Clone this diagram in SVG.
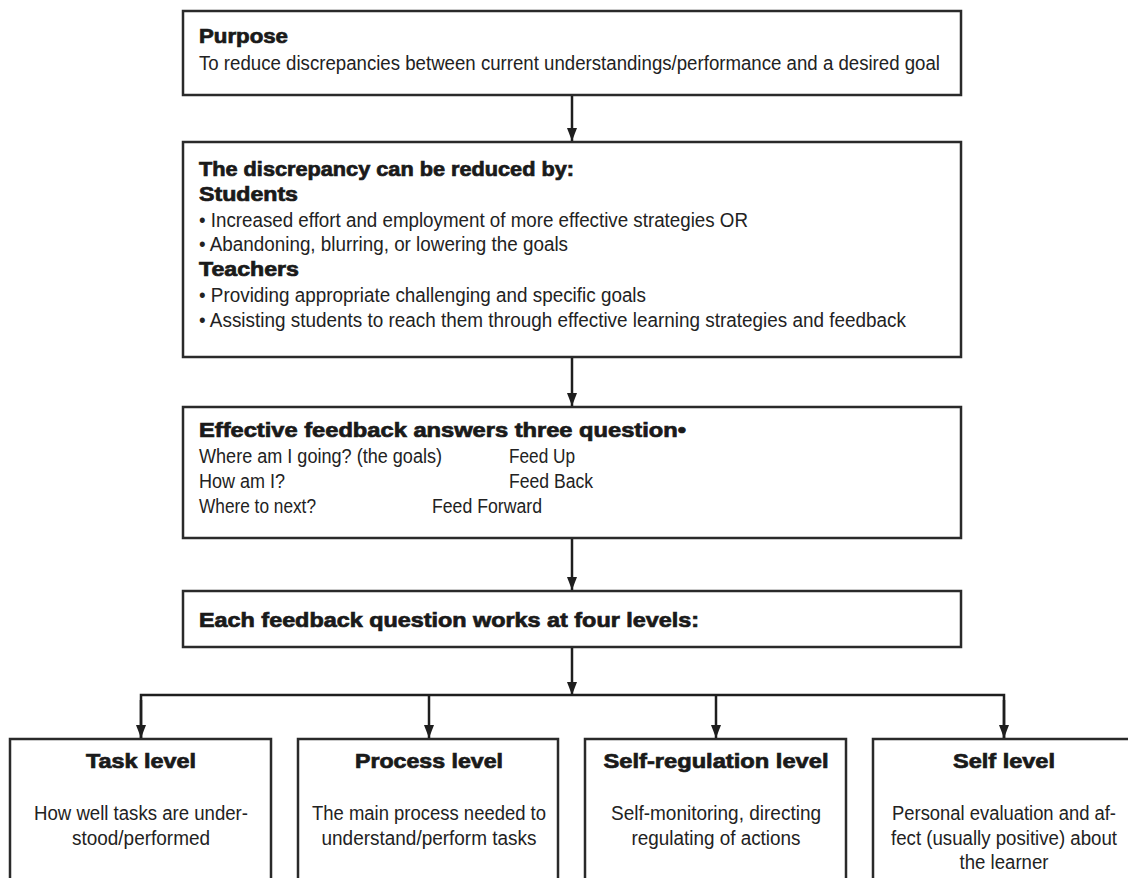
<svg xmlns="http://www.w3.org/2000/svg" width="1128" height="878" viewBox="0 0 1128 878">
<defs>
<marker id="arr" viewBox="0 0 13 10" refX="13" refY="5" markerWidth="13" markerHeight="10" markerUnits="userSpaceOnUse" orient="auto">
<path d="M0,0 L13,5 L0,10 z" fill="#1e1e1e"/>
</marker>
</defs>
<style>
.box{fill:#fff;stroke:#2a2a2a;stroke-width:2.5}
.h{font-family:"Liberation Sans",Arial,sans-serif;font-weight:bold;font-size:19.5px;fill:#1a1a1a;stroke:#1a1a1a;stroke-width:0.7}
.t{font-family:"Liberation Sans Narrow","Liberation Sans",Arial,sans-serif;font-size:19.5px;fill:#222}
.c{text-anchor:middle}
.con{fill:none;stroke:#1e1e1e;stroke-width:2.5}
</style>
<rect width="1128" height="878" fill="#fff"/>
<g id="purpose">
<rect class="box" x="183" y="11" width="778" height="84"/>
<text class="h" x="199" y="43" textLength="89" lengthAdjust="spacingAndGlyphs">Purpose</text>
<text class="t" x="199" y="70" textLength="741" lengthAdjust="spacingAndGlyphs">To reduce discrepancies between current understandings/performance and a desired goal</text>
</g>
<g id="discrepancy">
<rect class="box" x="183" y="142" width="778" height="215"/>
<text class="h" x="199" y="176" textLength="375" lengthAdjust="spacingAndGlyphs">The discrepancy can be reduced by:</text>
<text class="h" x="199" y="201" textLength="99" lengthAdjust="spacingAndGlyphs">Students</text>
<text class="t" x="199" y="227" textLength="549" lengthAdjust="spacingAndGlyphs">• Increased effort and employment of more effective strategies OR</text>
<text class="t" x="199" y="251" textLength="369" lengthAdjust="spacingAndGlyphs">• Abandoning, blurring, or lowering the goals</text>
<text class="h" x="199" y="276" textLength="100" lengthAdjust="spacingAndGlyphs">Teachers</text>
<text class="t" x="199" y="302" textLength="447" lengthAdjust="spacingAndGlyphs">• Providing appropriate challenging and specific goals</text>
<text class="t" x="199" y="327" textLength="707" lengthAdjust="spacingAndGlyphs">• Assisting students to reach them through effective learning strategies and feedback</text>
</g>
<g id="questions">
<rect class="box" x="183" y="407" width="778" height="131"/>
<text class="h" x="199" y="437" textLength="487" lengthAdjust="spacingAndGlyphs">Effective feedback answers three question•</text>
<text class="t" x="199" y="463" textLength="243" lengthAdjust="spacingAndGlyphs">Where am I going? (the goals)</text>
<text class="t" x="509" y="463" textLength="66" lengthAdjust="spacingAndGlyphs">Feed Up</text>
<text class="t" x="199" y="488" textLength="86" lengthAdjust="spacingAndGlyphs">How am I?</text>
<text class="t" x="509" y="488" textLength="84" lengthAdjust="spacingAndGlyphs">Feed Back</text>
<text class="t" x="199" y="513" textLength="117" lengthAdjust="spacingAndGlyphs">Where to next?</text>
<text class="t" x="432" y="513" textLength="110" lengthAdjust="spacingAndGlyphs">Feed Forward</text>
</g>
<g id="levels">
<rect class="box" x="183" y="591" width="778" height="56"/>
<text class="h" x="199" y="627" textLength="500" lengthAdjust="spacingAndGlyphs">Each feedback question works at four levels:</text>
</g>
<g id="task">
<rect class="box" x="10" y="739" width="261" height="160"/>
<text class="h c" x="141" y="768" textLength="110" lengthAdjust="spacingAndGlyphs">Task level</text>
<text class="t c" x="141" y="820" textLength="214" lengthAdjust="spacingAndGlyphs">How well tasks are under-</text>
<text class="t c" x="141" y="845" textLength="138" lengthAdjust="spacingAndGlyphs">stood/performed</text>
</g>
<g id="process">
<rect class="box" x="298" y="739" width="260" height="160"/>
<text class="h c" x="429" y="768" textLength="148" lengthAdjust="spacingAndGlyphs">Process level</text>
<text class="t c" x="429" y="820" textLength="234" lengthAdjust="spacingAndGlyphs">The main process needed to</text>
<text class="t c" x="429" y="845" textLength="215" lengthAdjust="spacingAndGlyphs">understand/perform tasks</text>
</g>
<g id="selfregulation">
<rect class="box" x="585" y="739" width="261" height="160"/>
<text class="h c" x="716" y="768" textLength="225" lengthAdjust="spacingAndGlyphs">Self-regulation level</text>
<text class="t c" x="716" y="820" textLength="210" lengthAdjust="spacingAndGlyphs">Self-monitoring, directing</text>
<text class="t c" x="716" y="845" textLength="169" lengthAdjust="spacingAndGlyphs">regulating of actions</text>
</g>
<g id="self">
<rect class="box" x="873" y="739" width="270" height="160"/>
<text class="h c" x="1004" y="768" textLength="102" lengthAdjust="spacingAndGlyphs">Self level</text>
<text class="t c" x="1004" y="820" textLength="224" lengthAdjust="spacingAndGlyphs">Personal evaluation and af-</text>
<text class="t c" x="1004" y="845" textLength="226" lengthAdjust="spacingAndGlyphs">fect (usually positive) about</text>
<text class="t c" x="1004" y="869" textLength="89" lengthAdjust="spacingAndGlyphs">the learner</text>
</g>
<g id="connectors">
<line class="con" x1="572" y1="96" x2="572" y2="141" marker-end="url(#arr)"/>
<line class="con" x1="572" y1="358" x2="572" y2="406" marker-end="url(#arr)"/>
<line class="con" x1="572" y1="539" x2="572" y2="590" marker-end="url(#arr)"/>
<line class="con" x1="572" y1="648" x2="572" y2="695" marker-end="url(#arr)"/>
<polyline class="con" points="141,738 141,695 1004,695 1004,738"/>
<line class="con" x1="141" y1="700" x2="141" y2="738" marker-end="url(#arr)"/>
<line class="con" x1="429" y1="695" x2="429" y2="738" marker-end="url(#arr)"/>
<line class="con" x1="716" y1="695" x2="716" y2="738" marker-end="url(#arr)"/>
<line class="con" x1="1004" y1="700" x2="1004" y2="738" marker-end="url(#arr)"/>
</g>
</svg>
